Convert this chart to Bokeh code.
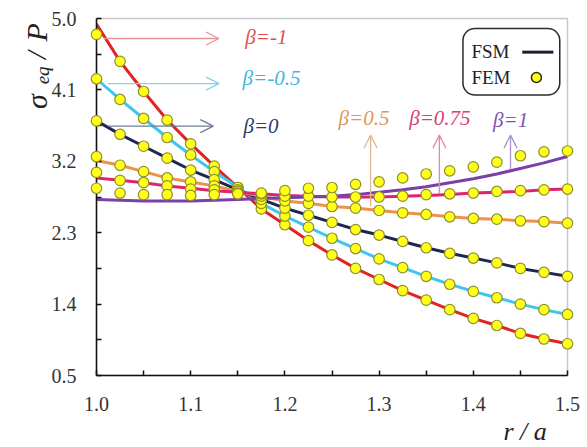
import math
from bokeh.plotting import figure
from bokeh.models import (Range1d, FixedTicker, PrintfTickFormatter, Label, Arrow,
                          OpenHead, BoxAnnotation)
from bokeh.core.properties import value
from bokeh.embed import file_html
from bokeh.resources import INLINE

# ---------------- data ----------------
r_a = [1.0, 1.025, 1.05, 1.075, 1.1, 1.125, 1.15, 1.175, 1.2, 1.225, 1.25,
       1.275, 1.3, 1.325, 1.35, 1.375, 1.4, 1.425, 1.45, 1.475, 1.5]

fsm_bm1 = [4.93, 4.46, 4.08, 3.72, 3.42, 3.14, 2.87, 2.60, 2.40, 2.20, 2.02,
           1.85, 1.71, 1.57, 1.45, 1.33, 1.22, 1.13, 1.03, 0.96, 0.90]
fem_bm1 = [4.80, 4.46, 4.08, 3.72, 3.42, 3.14, 2.87, 2.60, 2.40, 2.20, 2.02,
           1.85, 1.71, 1.57, 1.45, 1.33, 1.22, 1.13, 1.03, 0.96, 0.90]

fsm_bm05 = [4.24, 3.98, 3.74, 3.50, 3.28, 3.07, 2.87, 2.67, 2.51, 2.37, 2.23,
            2.10, 1.97, 1.86, 1.75, 1.65, 1.56, 1.48, 1.40, 1.33, 1.27]
fem_bm05 = [4.24, 3.98, 3.74, 3.50, 3.28, 3.07, 2.87, 2.67, 2.51, 2.37, 2.23,
            2.10, 1.97, 1.86, 1.75, 1.65, 1.56, 1.48, 1.40, 1.33, 1.27]

fsm_b0 = [3.71, 3.54, 3.39, 3.24, 3.09, 2.97, 2.84, 2.72, 2.61, 2.52, 2.43,
          2.34, 2.27, 2.19, 2.11, 2.04, 1.98, 1.92, 1.85, 1.80, 1.75]
fem_b0 = [3.71, 3.54, 3.39, 3.24, 3.09, 2.97, 2.84, 2.72, 2.61, 2.52, 2.43,
          2.34, 2.27, 2.19, 2.11, 2.04, 1.98, 1.92, 1.85, 1.80, 1.75]

fsm_b05 = [3.21, 3.15, 3.07, 2.99, 2.94, 2.89, 2.82, 2.76, 2.70, 2.67, 2.63,
           2.61, 2.58, 2.55, 2.53, 2.50, 2.48, 2.47, 2.45, 2.44, 2.42]
fem_b05 = [3.26, 3.15, 3.07, 2.99, 2.94, 2.89, 2.82, 2.76, 2.70, 2.67, 2.63,
           2.61, 2.58, 2.55, 2.53, 2.50, 2.48, 2.47, 2.45, 2.44, 2.42]

fsm_b075 = [2.99, 2.96, 2.93, 2.89, 2.86, 2.83, 2.81, 2.79, 2.77, 2.76, 2.75,
            2.75, 2.75, 2.76, 2.77, 2.78, 2.80, 2.81, 2.82, 2.84, 2.85]
fem_b075 = [3.06, 2.96, 2.93, 2.89, 2.85, 2.84, 2.80, 2.79, 2.76, 2.76, 2.75,
            2.75, 2.75, 2.76, 2.78, 2.79, 2.80, 2.82, 2.83, 2.84, 2.85]

fsm_b1 = [2.72, 2.71, 2.70, 2.70, 2.70, 2.71, 2.72, 2.73, 2.74, 2.75, 2.76,
          2.78, 2.81, 2.84, 2.88, 2.93, 2.98, 3.04, 3.11, 3.18, 3.26]
fem_b1 = [2.86, 2.80, 2.78, 2.78, 2.77, 2.78, 2.79, 2.80, 2.83, 2.86, 2.87,
          2.91, 2.94, 2.99, 3.04, 3.08, 3.13, 3.19, 3.27, 3.32, 3.33]

x_ticks = [1.0, 1.1, 1.2, 1.3, 1.4, 1.5]
x_minor = [1.05, 1.15, 1.25, 1.35, 1.45]
y_ticks = [0.5, 1.4, 2.3, 3.2, 4.1, 5.0]
y_minor = [0.95, 1.85, 2.75, 3.65, 4.55]

series = [
    ("β=-1", fsm_bm1, fem_bm1, "#e3231f"),
    ("β=-0.5", fsm_bm05, fem_bm05, "#3ec6ee"),
    ("β=0", fsm_b0, fem_b0, "#1c2752"),
    ("β=0.5", fsm_b05, fem_b05, "#ee9248"),
    ("β=0.75", fsm_b075, fem_b075, "#e0236f"),
    ("β=1", fsm_b1, fem_b1, "#7c3fa9"),
]

SERIF = "Liberation Serif"

p = figure(width=582, height=445, output_backend="svg", toolbar_location=None,
           x_range=Range1d(1.0, 1.5), y_range=Range1d(0.5, 5.0),
           min_border_left=96, min_border_right=15, min_border_top=18,
           min_border_bottom=70)
p.title.visible = False
p.grid.visible = False
p.outline_line_color = "#c8c8c8"
p.outline_line_width = 1.5
p.background_fill_color = "white"

for ax, ticks, minor in ((p.xaxis, x_ticks, x_minor), (p.yaxis, y_ticks, y_minor)):
    ax.ticker = FixedTicker(ticks=ticks, minor_ticks=minor)
    ax.formatter = PrintfTickFormatter(format="%.1f")
    ax.axis_line_color = "#111111"
    ax.axis_line_width = 1.5
    ax.major_tick_in = 5
    ax.major_tick_out = 0
    ax.minor_tick_in = 5
    ax.minor_tick_out = 0
    ax.major_tick_line_color = "#111111"
    ax.minor_tick_line_color = "#111111"
    ax.major_tick_line_width = 1.5
    ax.minor_tick_line_width = 1.5
    ax.major_label_text_font = SERIF
    ax.major_label_text_font_size = "20px"
    ax.major_label_text_color = "#333333"
p.xaxis.major_label_standoff = 21
p.yaxis.major_label_standoff = 20

# FSM lines
for name, fsm, fem, col in series:
    p.line(r_a, fsm, line_color=col, line_width=3)
# FEM markers
for name, fsm, fem, col in series:
    p.scatter(r_a, fem, size=10.5, fill_color="#ffff1a", line_color="#8f8f2a",
              line_width=1.2, level="overlay")

# ---------------- annotations ----------------
labels = [
    ("β=-1", 1.158, 4.765, "#e2504f"),
    ("β=-0.5", 1.155, 4.25, "#3fb6e2"),
    ("β=0", 1.156, 3.645, "#2b3a6b"),
    ("β=0.5", 1.257, 3.74, "#e29458"),
    ("β=0.75", 1.332, 3.74, "#d8407a"),
    ("β=1", 1.421, 3.72, "#7c55b0"),
]
for txt, lx, ly, col in labels:
    p.add_layout(Label(x=lx, y=ly, text=txt, text_font=SERIF, text_font_style="italic",
                       text_font_size="21px", text_color=col, text_align="left",
                       text_baseline="middle"))

arrows = [
    (1.008, 4.748, 1.130, 4.748, "#e89494"),
    (1.012, 4.18, 1.130, 4.18, "#86d0ec"),
    (1.012, 3.644, 1.124, 3.644, "#6d7a98"),
    (1.291, 2.63, 1.291, 3.53, "#e3b894"),
    (1.364, 2.80, 1.364, 3.53, "#e487ae"),
    (1.4395, 3.10, 1.4395, 3.53, "#a993cc"),
]
for xs, ys, xe, ye, col in arrows:
    p.add_layout(Arrow(x_start=xs, y_start=ys, x_end=xe, y_end=ye,
                       line_color=col, line_width=1.3,
                       end=OpenHead(size=13, line_color=col, line_width=1.3)))

# legend (text left, symbol right)
p.add_layout(BoxAnnotation(left=1.389, right=1.4918, top=4.874, bottom=4.035,
                           fill_color="white", fill_alpha=1.0, line_color="#2a2a2a",
                           line_alpha=1.0, line_width=1.5, border_radius=12,
                           level="annotation"))
p.add_layout(Label(x=1.398, y=4.58, text="FSM", text_font=SERIF, text_font_size="19px",
                   text_color="#222222", text_baseline="middle", level="overlay"))
p.add_layout(Label(x=1.398, y=4.255, text="FEM", text_font=SERIF, text_font_size="19px",
                   text_color="#222222", text_baseline="middle", level="overlay"))
p.line([1.452, 1.485], [4.576, 4.576], line_color="#1a1d33", line_width=3, level="overlay")
p.scatter([1.467], [4.257], size=10, fill_color="#ffff1a", line_color="#2a2a10",
          line_width=1.5, level="overlay")

# axis titles (text glyphs so they are not clipped to the frame)
ax_font = value(SERIF)
p.text(x=[0.9363], y=[3.86], text=["σ"], text_font=ax_font, text_font_style="italic",
       text_font_size="30px", text_color="#222222", angle=math.pi / 2,
       text_align="left", text_baseline="alphabetic", level="overlay")
p.text(x=[0.9425], y=[4.17], text=["eq"], text_font=ax_font, text_font_style="italic",
       text_font_size="19px", text_color="#222222", angle=math.pi / 2,
       text_align="left", text_baseline="alphabetic", level="overlay")
p.text(x=[0.9363], y=[4.49], text=["/"], text_font=ax_font, text_font_style="italic",
       text_font_size="28px", text_color="#222222", angle=math.pi / 2,
       text_align="left", text_baseline="alphabetic", level="overlay")
p.text(x=[0.9363], y=[4.71], text=["P"], text_font=ax_font, text_font_style="italic",
       text_font_size="30px", text_color="#222222", angle=math.pi / 2,
       text_align="left", text_baseline="alphabetic", level="overlay")
p.text(x=[1.432], y=[-0.21], text=["r / a"], text_font=ax_font, text_font_style="italic",
       text_font_size="26px", text_color="#222222",
       text_align="left", text_baseline="alphabetic", level="overlay")

open("out.html", "w").write(file_html(p, INLINE))
